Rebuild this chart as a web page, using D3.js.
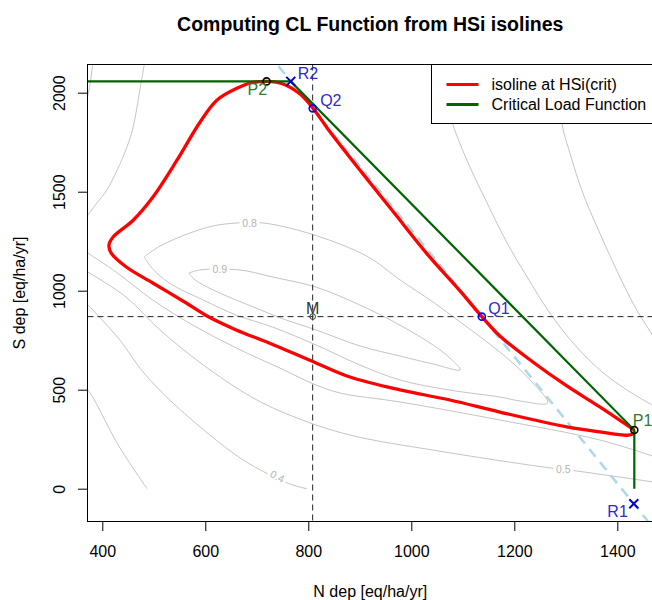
<!DOCTYPE html>
<html>
<head>
<meta charset="utf-8">
<script src="https://cdn.jsdelivr.net/npm/d3@7"></script>
<style>
    body { margin: 0; background: #fff; }
    text { font-family: "Liberation Sans", Arial, sans-serif; }
</style>
</head>
<body>
<svg id="chart" width="652" height="600"></svg>
<script>
// Tick labels
var xTicks = [400, 600, 800, 1000, 1200, 1400];
var yTicks = [0, 500, 1000, 1500, 2000];

// Grey HSi contours, [N dep, S dep]
var contour09 = [[568, 1089], [590, 1105], [666, 1105], [731, 1069], [815, 1018], [900, 928], [978, 826], [1042, 726],
    [1075, 660], [1095, 600], [1042, 630], [978, 670], [900, 721], [815, 802], [757, 852], [693, 918], [615, 1004],
    [580, 1055], [568, 1089]];
var contour08 = [[481, 1170], [512, 1225], [570, 1291], [615, 1327], [662, 1342], [712, 1342], [778, 1307], [862, 1235],
    [920, 1165], [978, 1055], [1042, 943], [1095, 842], [1147, 741], [1197, 635], [1236, 534], [1265, 433], [1211, 443],
    [1172, 463], [1075, 498], [978, 549], [900, 625], [815, 726], [731, 816], [660, 877], [596, 953], [530, 1039],
    [497, 1113], [481, 1170]];
var contour07 = [[360, 1210], [372, 1190], [427, 1094], [498, 953], [576, 826], [660, 711], [745, 609], [815, 524],
    [862, 483], [978, 438], [1172, 347], [1366, 246], [1480, 155]];
var contour05 = [[360, 1110], [372, 1094], [446, 968], [512, 802], [596, 625], [693, 458], [778, 357], [881, 271],
    [1042, 195], [1269, 105], [1322, 89], [1480, 30]];
var contour04 = [[360, 950], [372, 928], [396, 862], [434, 751], [479, 590], [531, 448], [590, 312], [654, 180],
    [696, 110], [764, 24], [797, 0]];
var contour03 = [[360, 520], [372, 498], [432, 216], [487, 0]];
var contourTop1 = [[382, 2160], [376, 2039], [368, 1940]];
var contourTop2 = [[483, 2165], [473, 2014], [460, 1827], [448, 1726], [429, 1610], [409, 1509], [390, 1444],
    [372, 1382], [360, 1345]];
var contourRight1 = [[1050, 2145], [1081, 1837], [1114, 1624], [1147, 1444], [1186, 1241], [1225, 1069], [1269, 887],
    [1314, 736], [1366, 600], [1419, 498], [1480, 405]];
var contourRight2 = [[1280, 2145], [1293, 1837], [1308, 1695], [1333, 1493], [1366, 1291], [1405, 1069], [1438, 902],
    [1480, 730]];

var contourLabels = [
    {text: "0.8", n: 686, s: 1342, angle: 0},
    {text: "0.9", n: 628, s: 1107, angle: 0},
    {text: "0.5", n: 1295, s: 97, angle: 0},
    {text: "0.4", n: 740, s: 62, angle: 26}
];

// Isoline at HSi(crit)
var isoline = [[1433, 296], [1366, 413], [1302, 519], [1236, 640], [1172, 771], [1137, 869], [1095, 998], [1031, 1185],
    [967, 1392], [903, 1600], [838, 1817], [809, 1922], [784, 1993], [751, 2044], [720, 2057], [687, 2049], [667, 2029],
    [623, 1963], [590, 1852], [545, 1659], [498, 1472], [460, 1356], [421, 1271], [413, 1231], [417, 1191], [446, 1121],
    [498, 1039], [563, 938], [607, 867], [660, 802], [724, 736], [815, 635], [881, 564], [978, 499], [1075, 448],
    [1172, 387], [1302, 312], [1366, 287], [1419, 270], [1430, 276], [1433, 290]];

// Critical load function
var clFunction = [[0, 2057], [766, 2057], [1433, 296], [1433, 0]];

// Special points
var pointM = [808.5, 869];
var pointQ1 = [1137, 869];
var pointQ2 = [808.5, 1921];
var pointR1 = [1432, -76];
var pointR2 = [766, 2057];
var pointP1 = [1433, 296];
var pointP2 = [719, 2057];

var svg = d3.select("#chart");
var box = {left: 87.5, top: 64.5, right: 653, bottom: 521.5};

var x = d3.scaleLinear()
    .domain([371.3, 1469.3])
    .range([box.left, box.right]);
var y = d3.scaleLinear()
    .domain([-165.7, 2142.4])
    .range([box.bottom, box.top]);

// Everything out of the plot region is not drawn
svg.append("defs")
    .append("clipPath")
    .attr("id", "clip")
    .append("rect")
    .attr("x", box.left)
    .attr("y", box.top)
    .attr("width", box.right - box.left)
    .attr("height", box.bottom - box.top);

var plot = svg.append("g")
    .attr("clip-path", "url(#clip)");

var line = d3.line()
    .x(d => x(d[0]))
    .y(d => y(d[1]));
var smooth = d3.line()
    .curve(d3.curveCatmullRom.alpha(0.5))
    .x(d => x(d[0]))
    .y(d => y(d[1]));

// Grey contours
var contours = [contour09, contour08, contour07, contour05, contour04, contour03,
    contourTop1, contourTop2, contourRight1, contourRight2];
plot.selectAll(".contour")
    .data(contours)
    .enter()
    .append("path")
    .attr("class", "contour")
    .attr("d", smooth)
    .style("fill", "none")
    .style("stroke", "#c4c4c4")
    .style("stroke-width", 1);

var labels = plot.selectAll(".clabel")
    .data(contourLabels)
    .enter()
    .append("g")
    .attr("class", "clabel")
    .attr("transform", d => "translate(" + x(d.n) + "," + y(d.s) + ") rotate(" + d.angle + ")");
labels.append("rect")
    .attr("x", -10)
    .attr("y", -5)
    .attr("width", 20)
    .attr("height", 10)
    .style("fill", "#fff");
labels.append("text")
    .attr("text-anchor", "middle")
    .attr("dy", "0.36em")
    .style("font-size", "10.5px")
    .style("fill", "#b4b4b4")
    .text(d => d.text);

// Dashed lines through M
plot.append("line")
    .attr("x1", x(pointM[0]))
    .attr("x2", x(pointM[0]))
    .attr("y1", box.top)
    .attr("y2", box.bottom)
    .style("stroke", "#222")
    .style("stroke-dasharray", "6,4");
plot.append("line")
    .attr("x1", box.left)
    .attr("x2", box.right)
    .attr("y1", y(pointM[1]))
    .attr("y2", y(pointM[1]))
    .style("stroke", "#222")
    .style("stroke-dasharray", "6,4");

// Light blue line through R2 and R1
var k = (pointR1[1] - pointR2[1]) / (pointR1[0] - pointR2[0]);
var sTop = 2400, sBottom = -400;
plot.append("line")
    .attr("x1", x(pointR2[0] + (sTop - pointR2[1]) / k))
    .attr("y1", y(sTop))
    .attr("x2", x(pointR2[0] + (sBottom - pointR2[1]) / k))
    .attr("y2", y(sBottom))
    .style("stroke", "#add8e6")
    .style("stroke-width", 2.5)
    .style("stroke-dasharray", "10,7");

// Isoline at HSi(crit)
plot.append("path")
    .datum(isoline)
    .attr("d", smooth)
    .style("fill", "none")
    .style("stroke", "#ff0000")
    .style("stroke-width", 3.3)
    .style("stroke-linejoin", "round");

// Critical load function
plot.append("path")
    .datum(clFunction)
    .attr("d", line)
    .style("fill", "none")
    .style("stroke", "#006400")
    .style("stroke-width", 2.2);

// Points and their labels
function circle(p, color) {
    svg.append("circle")
        .attr("cx", x(p[0]))
        .attr("cy", y(p[1]))
        .attr("r", 3.5)
        .style("fill", "none")
        .style("stroke", color)
        .style("stroke-width", 1.6);
}

function cross(p, color) {
    var s = 4.5;
    svg.append("path")
        .attr("d", "M" + (x(p[0]) - s) + "," + (y(p[1]) - s) + "L" + (x(p[0]) + s) + "," + (y(p[1]) + s)
            + "M" + (x(p[0]) - s) + "," + (y(p[1]) + s) + "L" + (x(p[0]) + s) + "," + (y(p[1]) - s))
        .style("stroke", color)
        .style("stroke-width", 2);
}

function label(p, txt, color, dx, dy, anchor) {
    svg.append("text")
        .attr("x", x(p[0]) + dx)
        .attr("y", y(p[1]) + dy)
        .attr("text-anchor", anchor)
        .style("font-size", "16px")
        .style("fill", color)
        .text(txt);
}

svg.append("circle")
    .attr("cx", x(pointM[0]))
    .attr("cy", y(pointM[1]))
    .attr("r", 2.8)
    .style("fill", "none")
    .style("stroke", "#333")
    .style("stroke-width", 1);
label(pointM, "M", "#333", 0, -3, "middle");

circle(pointQ1, "#0000ff");
circle(pointQ2, "#0000ff");
label(pointQ1, "Q1", "#2b2bd0", 6.5, -3, "start");
label(pointQ2, "Q2", "#2b2bd0", 7.5, -2.5, "start");

cross(pointR1, "#0000cd");
cross(pointR2, "#0000cd");
label(pointR1, "R1", "#2b2bd0", -6, 13.5, "end");
label(pointR2, "R2", "#2b2bd0", 7, -2.5, "start");

circle(pointP1, "#000");
circle(pointP2, "#000");
label(pointP1, "P1", "#2e7a2e", -1.5, -4.5, "start");
label(pointP2, "P2", "#2e7a2e", 0.5, 14, "end");

// Box
svg.append("rect")
    .attr("x", box.left)
    .attr("y", box.top)
    .attr("width", box.right - box.left)
    .attr("height", box.bottom - box.top)
    .style("fill", "none")
    .style("stroke", "#000")
    .style("stroke-width", 1);

// Axes
var xAxis = svg.append("g")
    .attr("transform", "translate(0," + box.bottom + ")")
    .call(d3.axisBottom(x).tickValues(xTicks).tickFormat(d3.format("d"))
        .tickSize(9.5).tickPadding(14.5).tickSizeOuter(0));
xAxis.select(".domain").remove();
xAxis.selectAll("line").style("stroke", "#000");
xAxis.selectAll("text")
    .style("font-size", "16px")
    .style("fill", "#000");

var yAxis = svg.append("g")
    .attr("transform", "translate(" + box.left + ",0)")
    .call(d3.axisLeft(y).tickValues(yTicks).tickFormat(d3.format("d"))
        .tickSize(9.5).tickSizeOuter(0));
yAxis.select(".domain").remove();
yAxis.selectAll("line").style("stroke", "#000");
yAxis.selectAll("text")
    .attr("x", 0)
    .attr("dy", null)
    .attr("transform", "translate(-22.5,0) rotate(-90)")
    .attr("text-anchor", "middle")
    .style("font-size", "16px")
    .style("fill", "#000");

// Axis titles and main title
svg.append("text")
    .attr("x", (box.left + box.right) / 2)
    .attr("y", 597)
    .attr("text-anchor", "middle")
    .style("font-size", "16px")
    .text("N dep [eq/ha/yr]");

svg.append("text")
    .attr("transform", "translate(25," + ((box.top + box.bottom) / 2) + ") rotate(-90)")
    .attr("text-anchor", "middle")
    .style("font-size", "16px")
    .text("S dep [eq/ha/yr]");

svg.append("text")
    .attr("x", (box.left + box.right) / 2)
    .attr("y", 31)
    .attr("text-anchor", "middle")
    .style("font-size", "19.5px")
    .style("font-weight", "bold")
    .text("Computing CL Function from HSi isolines");

// Legend
var legendItems = [
    {name: "isoline at HSi(crit)", color: "#ff0000"},
    {name: "Critical Load Function", color: "#006400"}
];
svg.append("rect")
    .attr("x", 431.5)
    .attr("y", box.top)
    .attr("width", 260)
    .attr("height", 59)
    .style("fill", "#fff")
    .style("stroke", "#000");
var legend = svg.selectAll(".legend")
    .data(legendItems)
    .enter()
    .append("g")
    .attr("class", "legend")
    .attr("transform", (d, i) => "translate(0," + (84.5 + i * 20) + ")");
legend.append("line")
    .attr("x1", 446.5)
    .attr("x2", 478.5)
    .style("stroke", d => d.color)
    .style("stroke-width", 3);
legend.append("text")
    .attr("x", 491.5)
    .attr("y", 5.7)
    .style("font-size", "16px")
    .text(d => d.name);
</script>
</body>
</html>
